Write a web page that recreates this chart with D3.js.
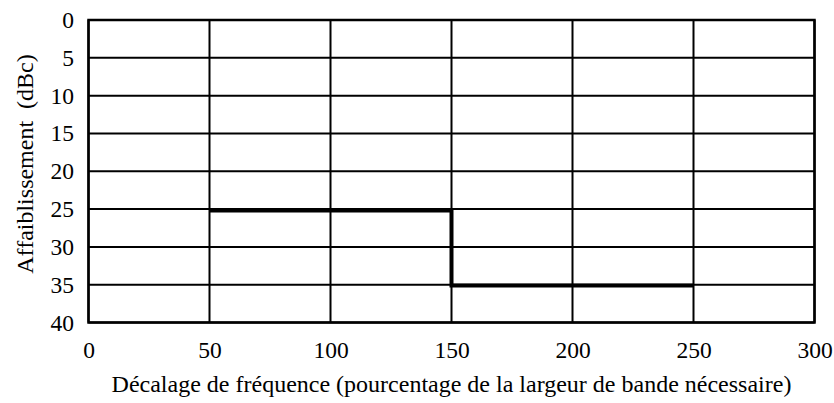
<!DOCTYPE html>
<html>
<head>
<meta charset="utf-8">
<script src="https://cdn.jsdelivr.net/npm/d3@7"></script>
<style>
  html, body { margin: 0; padding: 0; background: #fff; }
  svg { display: block; }
  text { font-family: "Liberation Serif", "Times New Roman", serif; fill: #000; white-space: pre; }
</style>
</head>
<body>
<svg id="chart" width="834" height="403"></svg>
<script>
// Mask: attenuation (dBc) versus frequency offset (% of necessary bandwidth)
const xTicks = [0, 50, 100, 150, 200, 250, 300];
const yTicks = [0, 5, 10, 15, 20, 25, 30, 35, 40];
const maskOffsets = [50, 150, 150, 250];
const maskAttenuation = [25.2, 25.2, 35.1, 35.1];
const xTitle = "Décalage de fréquence (pourcentage de la largeur de bande nécessaire)";
const yTitle = "Affaiblissement  (dBc)";

const svg = d3.select("#chart");
const W = 834, H = 403;
const margin = { left: 88.5, right: W - 814.5, top: 20, bottom: H - 322.5 };

const x = d3.scaleLinear().domain([0, 300]).range([margin.left, W - margin.right]);
const y = d3.scaleLinear().domain([0, 40]).range([margin.top, H - margin.bottom]);

// Grid lines
const grid = svg.append("g").attr("stroke", "#000").attr("stroke-width", 2);
grid.selectAll(".vg").data(xTicks).join("line")
  .attr("x1", d => x(d)).attr("x2", d => x(d))
  .attr("y1", y(0)).attr("y2", y(40));
grid.selectAll(".hg").data(yTicks).join("line")
  .attr("x1", x(0)).attr("x2", x(300))
  .attr("y1", d => y(d)).attr("y2", d => y(d));

// Frame
svg.append("rect")
  .attr("x", x(0)).attr("y", y(0))
  .attr("width", x(300) - x(0)).attr("height", y(40) - y(0))
  .attr("fill", "none").attr("stroke", "#000").attr("stroke-width", 2.5);

// Axes (labels only)
const xAxis = d3.axisBottom(x).tickValues(xTicks).tickSize(0).tickPadding(19);
svg.append("g").attr("transform", `translate(0,${y(40)})`).call(xAxis)
  .call(g => g.select(".domain").remove())
  .selectAll("text").attr("font-size", 23.5).attr("font-family", "Liberation Serif");

const yAxis = d3.axisLeft(y).tickValues(yTicks).tickSize(0).tickPadding(14.5);
svg.append("g").attr("transform", `translate(${x(0)},0)`).call(yAxis)
  .call(g => g.select(".domain").remove())
  .selectAll("text").attr("font-size", 23.5).attr("font-family", "Liberation Serif");

// Mask line
const pts = maskOffsets.map((d, i) => [d, maskAttenuation[i]]);
svg.append("path")
  .datum(pts)
  .attr("d", d3.line().x(d => x(d[0])).y(d => y(d[1])))
  .attr("fill", "none").attr("stroke", "#000").attr("stroke-width", 4)
  .attr("stroke-linejoin", "miter");

// Axis titles
svg.append("text")
  .attr("x", (x(0) + x(300)) / 2).attr("y", 392)
  .attr("text-anchor", "middle").attr("font-size", 24)
  .text(xTitle);

svg.append("text")
  .attr("transform", `translate(33,164) rotate(-90)`)
  .attr("text-anchor", "middle").attr("font-size", 24)
  .text(yTitle);
</script>
</body>
</html>
